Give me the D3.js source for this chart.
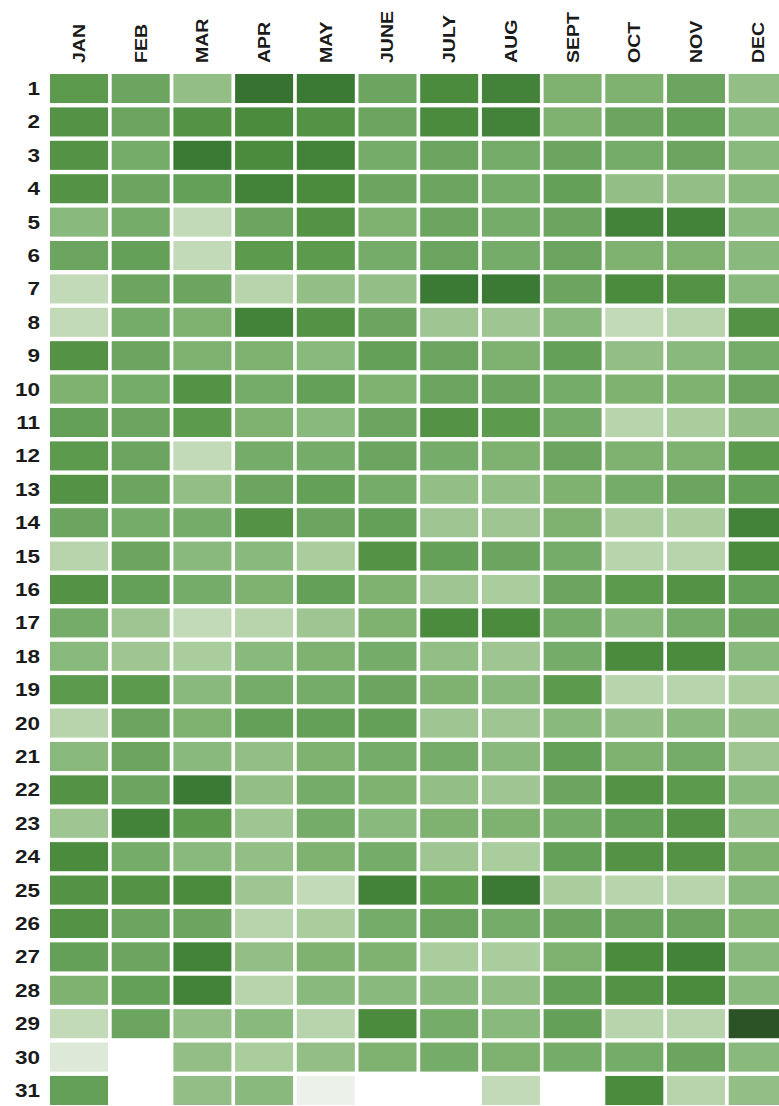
<!DOCTYPE html>
<html><head><meta charset="utf-8">
<script src="https://cdn.jsdelivr.net/npm/d3@7"></script>
<style>body{margin:0;background:#fff;overflow:hidden}</style>
</head><body>
<script>
const months = ["JAN","FEB","MAR","APR","MAY","JUNE","JULY","AUG","SEPT","OCT","NOV","DEC"];
const days = [1,2,3,4,5,6,7,8,9,10,11,12,13,14,15,16,17,18,19,20,21,22,23,24,25,26,27,28,29,30,31];

const jan = [7,7.5,7.5,7.5,4.5,6,2,2,7.5,5,6.5,7,7.5,6,2.5,7.5,5.5,4.5,7,2.5,4.5,7.5,3.5,8,7.5,7.5,6.5,5,2,1,6.5];
const feb = [6,6,5.5,6,5.5,6.5,6,5.5,6,5.5,6,6,6,5.5,6,6.5,3.5,3.5,7,6,6,6,8.5,5.5,7.5,6,6,6.5,6,null,null];
const mar = [4,7.5,9,6.5,2,2,6,5,5,7.5,7,2,4,5.5,4.5,5.5,2,3,4.5,5,4.5,9,7,4.5,8,6,8.5,8.5,4,4,4];
const apr = [9.2,8,8,8.5,6,7,2.5,8.5,5,5.5,5,5.5,6,7.5,4.5,5,2.5,4.5,5.5,6.5,4,4,3.5,4,3.5,2.5,4,2.5,4.5,3,4.5];
const may = [9,7.5,8.5,8,7.5,7,4,7.5,4.5,6.5,4.5,5.5,6.5,6,3,6.5,3.5,5,5.5,6.5,5,5.5,5.5,5,2,3,5,4.5,2.5,4,0.3];
const jun = [6,6,5.5,6,5,5.5,4,6,6.5,5,6,6,5.5,6.5,7.5,5,5,5.5,6,6.5,5.5,5,4.5,5.5,8.5,5.5,5,4.5,8,5,null];
const jul = [8,8,6,6,6,6,9,3.5,6,6,7.5,5.5,4,3.5,6.5,3.5,8,4,5,3.5,5.5,4,5,3.5,7,6,3,4.5,5.5,5.5,null];
const aug = [8.5,8.5,5.5,5.5,5.5,5.5,9,3.5,5,6,7,5,4,3.5,6,3,8,3.5,4.5,3.5,4.5,3.5,5,3,9,5.5,3,4,4.5,5,2];
const sep = [5,5,6,6.5,6,6,6,4.5,6.5,5.5,5.5,6,5,5,5.5,6,5.5,5.5,7,4.5,6.5,6,5.5,6.5,3,6,5,6.5,6.5,5.5,null];
const oct = [5,6,5.5,4,8.5,5,8,2,4,5,2.5,5,5.5,3,2.5,7,4.5,8,2.5,4,5,7.5,6.5,7.5,2.5,6,8,7.5,2.5,5.5,8];
const nov = [6,6.5,6,4,8.5,5,7.5,2.5,4.5,5,3,5,6,3,2.5,7.5,5.5,8,2.5,4.5,5.5,7,7.5,7.5,2.5,6,8.5,8,2.5,6,2.5];
const dec = [4,4.5,4.5,4.5,4.5,4.5,4.5,7.5,5.5,6,4,7,6.5,8.5,8,6.5,6,4.5,3,4,3.5,4.5,4,5,4.5,5,4.5,4.5,10,4.5,4];

const series = [jan,feb,mar,apr,may,jun,jul,aug,sep,oct,nov,dec];

const W = 779, H = 1106;
const svg = d3.select("body").append("svg").attr("width", W).attr("height", H);

const x = d3.scaleBand().domain(months).range([50, 786.7]).paddingInner(0.06);
const y = d3.scaleBand().domain(days).range([74, 1105]).paddingInner(0.13);
const color = d3.scaleLinear()
  .domain([0,1,2,3,4,5,6,7,8,9,10])
  .range(["#f3f5f1","#dde9d8","#c3dab9","#aacd9e","#93bf86","#7fb271","#6ca560","#5c9a4d","#4b8b3d","#3b7a34","#2b5325"]);

const cells = [];
months.forEach((m, i) => days.forEach((d, j) => {
  const v = series[i][j];
  if (v !== null && v !== undefined) cells.push({m, d, v});
}));

svg.append("g").selectAll("rect").data(cells).join("rect")
  .attr("x", c => x(c.m)).attr("y", c => y(c.d))
  .attr("width", x.bandwidth()).attr("height", y.bandwidth())
  .attr("fill", c => color(c.v));

// month labels
svg.append("g")
  .selectAll("text").data(months).join("text")
  .attr("transform", m => `translate(${x(m) + x.bandwidth()/2 + 6},63) rotate(-90) scale(1.15,1)`)
  .attr("font-family", "Liberation Sans, Arial, sans-serif")
  .attr("font-size", 17).attr("font-weight", "bold").attr("fill", "#1a1a1a")
  .text(m => m);

// day labels
svg.append("g").selectAll("text").data(days).join("text")
  .attr("transform", d => `translate(40,${y(d) + y.bandwidth()/2}) scale(1.25,1)`)
  .attr("dy", "0.36em").attr("text-anchor", "end")
  .attr("font-family", "Liberation Sans, Arial, sans-serif")
  .attr("font-size", 18).attr("font-weight", "bold").attr("fill", "#1a1a1a")
  .text(d => d);
</script>
</body></html>
